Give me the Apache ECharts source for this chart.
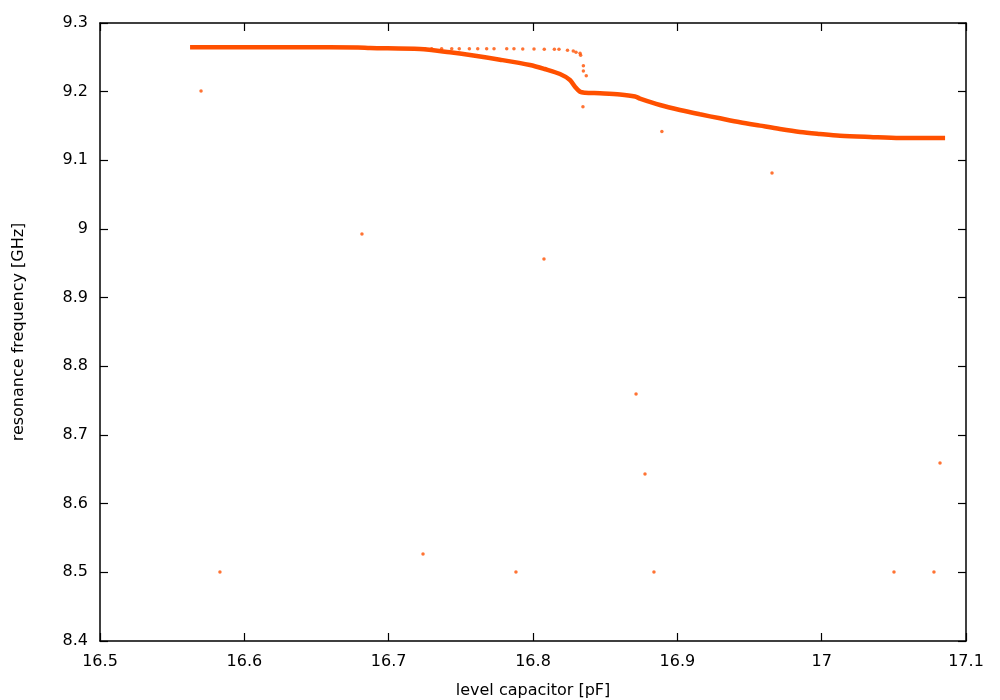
<!DOCTYPE html>
<html>
<head>
<meta charset="utf-8">
<script src="https://cdn.jsdelivr.net/npm/echarts@6/dist/echarts.min.js"></script>
<style>html,body{margin:0;padding:0;background:#fff}#c{width:1000px;height:700px}</style>
</head>
<body>
<div id="c"></div>
<script>
// Main resonance curve
var curveX = [16.5624,16.6039,16.6386,16.6788,16.6871,16.7217,16.7425,16.7564,16.7771,16.7979,16.8080,16.8187,16.8256,16.8291,16.8326,16.8360,16.8464,16.8603,16.8707,16.8741,16.8880,16.9018,16.9157,16.9296,16.9434,16.9573,16.9711,16.9850,16.9988,17.0127,17.0335,17.0543,17.0855];
var curveY = [9.2646,9.2646,9.2646,9.2643,9.2636,9.2621,9.2573,9.2534,9.2466,9.2388,9.2330,9.2257,9.2170,9.2072,9.1999,9.1985,9.1976,9.1959,9.1930,9.1900,9.1806,9.1733,9.1670,9.1612,9.1555,9.1505,9.1456,9.1413,9.1384,9.1359,9.1340,9.1325,9.1325];
// Upper sparse branch
var branchX = [16.7252,16.7298,16.7367,16.7437,16.7489,16.7559,16.7617,16.7679,16.7730,16.7818,16.7868,16.7929,16.8007,16.8078,16.8148,16.8180,16.8239,16.8279,16.8298,16.8326,16.8330,16.8349,16.8349,16.8369];
var branchY = [9.2625,9.2625,9.2625,9.2625,9.2625,9.2625,9.2625,9.2625,9.2625,9.2625,9.2625,9.2622,9.2620,9.2617,9.2617,9.2617,9.2602,9.2592,9.2573,9.2559,9.2530,9.2378,9.2301,9.2233];
// Isolated outlier points
var outX = [16.5700,16.5831,16.6815,16.7238,16.7882,16.8076,16.8346,16.8714,16.8776,16.8838,16.8893,16.9656,17.0501,17.0778,17.0820];
var outY = [9.2010,8.5005,8.9927,8.5267,8.5005,8.9563,9.1781,8.7597,8.6432,8.5005,9.1420,9.0816,8.5005,8.5005,8.6592];
// Axis ticks
var xMin = 16.5, xMax = 17.1, xStep = 0.1;
var yMin = 8.4, yMax = 9.3, yStep = 0.1;
var xTitle = 'level capacitor [pF]';
var yTitle = 'resonance frequency [GHz]';

function zip(a, b) { return a.map(function (v, i) { return [v, b[i]]; }); }
var col = '#ff5000';
var font = 'DejaVu Sans, Liberation Sans, Arial, sans-serif';
var fs = 16;
function fmt(v) { return String(Math.round(v * 10) / 10); }

var chart = echarts.init(document.getElementById('c'), null, { renderer: 'canvas' });
var axLine = { show: true, onZero: false, lineStyle: { color: '#000', width: 1.5 } };
var tick = { show: true, inside: true, length: 8, lineStyle: { color: '#000', width: 1.2 } };
chart.setOption({
  animation: false,
  backgroundColor: '#fff',
  grid: { left: 100, right: 34, top: 23, bottom: 59, containLabel: false, outerBoundsMode: 'none' },
  xAxis: [
    { type: 'value', min: xMin, max: xMax, interval: xStep, position: 'bottom',
      axisLine: axLine, axisTick: tick, splitLine: { show: false },
      axisLabel: { color: '#000', fontSize: fs, fontFamily: font, margin: 13, formatter: fmt, showMinLabel: true, showMaxLabel: true },
      name: xTitle, nameLocation: 'middle', nameGap: 42,
      nameTextStyle: { color: '#000', fontSize: fs, fontFamily: font } },
    { type: 'value', min: xMin, max: xMax, interval: xStep, position: 'top',
      axisLine: axLine, axisTick: tick, splitLine: { show: false }, axisLabel: { show: false } }
  ],
  yAxis: [
    { type: 'value', min: yMin, max: yMax, interval: yStep, position: 'left',
      axisLine: axLine, axisTick: tick, splitLine: { show: false },
      axisLabel: { color: '#000', fontSize: fs, fontFamily: font, margin: 12, formatter: fmt, showMinLabel: true, showMaxLabel: true },
      name: yTitle, nameLocation: 'middle', nameGap: 73, nameRotate: 90,
      nameTextStyle: { color: '#000', fontSize: fs, fontFamily: font } },
    { type: 'value', min: yMin, max: yMax, interval: yStep, position: 'right',
      axisLine: axLine, axisTick: tick, splitLine: { show: false }, axisLabel: { show: false } }
  ],
  series: [
    { type: 'line', data: zip(curveX, curveY), showSymbol: false, smooth: 0.3,
      lineStyle: { color: col, width: 4.5 }, itemStyle: { color: col } },
    { type: 'scatter', data: zip(branchX, branchY), symbol: 'circle', symbolSize: 3.5,
      itemStyle: { color: col } },
    { type: 'scatter', data: zip(outX, outY), symbol: 'circle', symbolSize: 3.5,
      itemStyle: { color: col } }
  ]
});
</script>
</body>
</html>
